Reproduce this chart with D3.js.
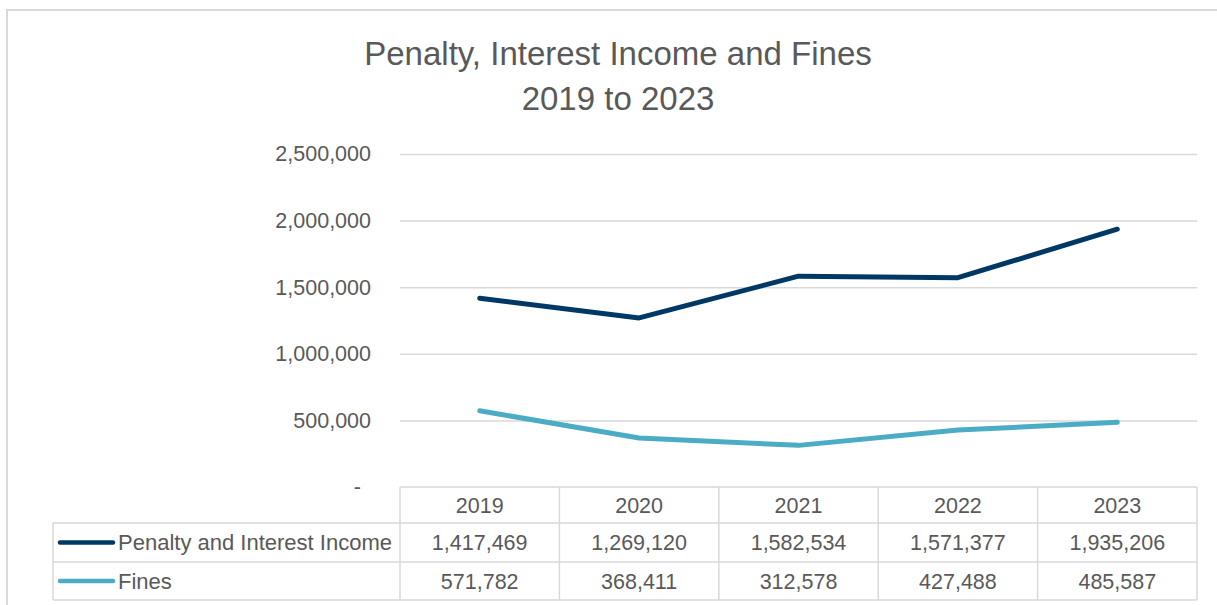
<!DOCTYPE html>
<html>
<head>
<meta charset="utf-8">
<script src="https://cdn.jsdelivr.net/npm/d3@7"></script>
<style>
  html, body { margin: 0; padding: 0; background: #fff; }
  svg { display: block; font-family: "Liberation Sans", Arial, sans-serif; }
</style>
</head>
<body>
<svg id="chart" width="1217" height="605"></svg>
<script>
// Chart data
const years = ["2019", "2020", "2021", "2022", "2023"];
const penaltyInterest = [1417469, 1269120, 1582534, 1571377, 1935206];
const fines = [571782, 368411, 312578, 427488, 485587];
const seriesNames = ["Penalty and Interest Income", "Fines"];
const seriesColors = ["#003865", "#4bacc6"];
const yTicks = [0, 500000, 1000000, 1500000, 2000000, 2500000];
const titleLines = ["Penalty, Interest Income and Fines", "2019 to 2023"];

const series = [penaltyInterest, fines];

const svg = d3.select("#chart");
const textColor = "#595959";
const gridColor = "#d9d9d9";

// Plot area
const plot = { left: 400, right: 1197, top: 154, bottom: 487 };

// Outer chart frame
svg.append("rect")
  .attr("x", 7).attr("y", 10)
  .attr("width", 1400).attr("height", 800)
  .attr("fill", "none")
  .attr("stroke", gridColor)
  .attr("stroke-width", 2);

// Title
svg.append("g").selectAll("text")
  .data(titleLines)
  .join("text")
  .attr("x", 618)
  .attr("y", (d, i) => 65 + i * 45)
  .attr("text-anchor", "middle")
  .attr("fill", textColor)
  .style("font-size", "33px")
  .text(d => d);

// Scales
const x = d3.scaleBand().domain(years).range([plot.left, plot.right]).padding(0);
const y = d3.scaleLinear().domain([0, 2500000]).range([plot.bottom, plot.top]);
const cx = d => x(d) + x.bandwidth() / 2;

// Y axis with gridlines
const fmt = d3.format(",");
const yAxis = svg.append("g")
  .attr("transform", `translate(${plot.left},0)`)
  .call(d3.axisLeft(y)
    .tickValues(yTicks)
    .tickSizeInner(-(plot.right - plot.left))
    .tickSizeOuter(0)
    .tickPadding(29)
    .tickFormat(d => d === 0 ? "-" : fmt(d)));
yAxis.select(".domain").remove();
yAxis.selectAll(".tick line")
  .attr("stroke", gridColor)
  .attr("stroke-width", 1.5)
  .filter(d => d === 0).remove();
yAxis.selectAll(".tick text")
  .attr("fill", textColor)
  .style("font-size", "21.5px")
  .style("font-family", "'Liberation Sans', Arial, sans-serif")
  .filter(d => d === 0)
  .attr("x", -39);

// Lines
const line = d3.line()
  .x((d, i) => cx(years[i]))
  .y(d => y(d));

svg.append("g").selectAll("path")
  .data(series)
  .join("path")
  .attr("d", d => line(d))
  .attr("fill", "none")
  .attr("stroke", (d, i) => seriesColors[i])
  .attr("stroke-width", 5)
  .attr("stroke-linejoin", "round")
  .attr("stroke-linecap", "round");

// Data table below the plot
const table = svg.append("g");
const headerTop = 487, row1Top = 523, row2Top = 562, tableBottom = 600;
const legendLeft = 53;
const rowTops = [row1Top, row2Top];
const rowBottoms = [row2Top, tableBottom];

const border = (x1, y1, x2, y2) => table.append("line")
  .attr("x1", x1).attr("y1", y1).attr("x2", x2).attr("y2", y2)
  .attr("stroke", gridColor).attr("stroke-width", 1.5);

// Horizontal borders
border(plot.left, headerTop, plot.right, headerTop);
border(legendLeft, row1Top, plot.right, row1Top);
border(legendLeft, row2Top, plot.right, row2Top);
border(legendLeft, tableBottom, plot.right, tableBottom);
// Vertical borders
border(legendLeft, row1Top, legendLeft, tableBottom);
years.forEach(yr => border(x(yr), headerTop, x(yr), tableBottom));
border(plot.right, headerTop, plot.right, tableBottom);

// Header years
table.append("g").selectAll("text")
  .data(years)
  .join("text")
  .attr("x", d => cx(d))
  .attr("y", (headerTop + row1Top) / 2)
  .attr("dy", "0.36em")
  .attr("text-anchor", "middle")
  .attr("fill", textColor)
  .style("font-size", "21.5px")
  .text(d => d);

// Series rows: legend key, name, values
series.forEach((vals, si) => {
  const mid = (rowTops[si] + rowBottoms[si]) / 2;
  table.append("line")
    .attr("x1", 60).attr("x2", 113)
    .attr("y1", mid).attr("y2", mid)
    .attr("stroke", seriesColors[si])
    .attr("stroke-width", 4.5)
    .attr("stroke-linecap", "round");
  table.append("text")
    .attr("x", 118)
    .attr("y", mid)
    .attr("dy", "0.36em")
    .attr("fill", textColor)
    .style("font-size", "22px")
    .text(seriesNames[si]);
  table.append("g").selectAll("text")
    .data(vals)
    .join("text")
    .attr("x", (d, i) => cx(years[i]))
    .attr("y", mid)
    .attr("dy", "0.36em")
    .attr("text-anchor", "middle")
    .attr("fill", textColor)
    .style("font-size", "21.5px")
    .text(d => fmt(d));
});
</script>
</body>
</html>
